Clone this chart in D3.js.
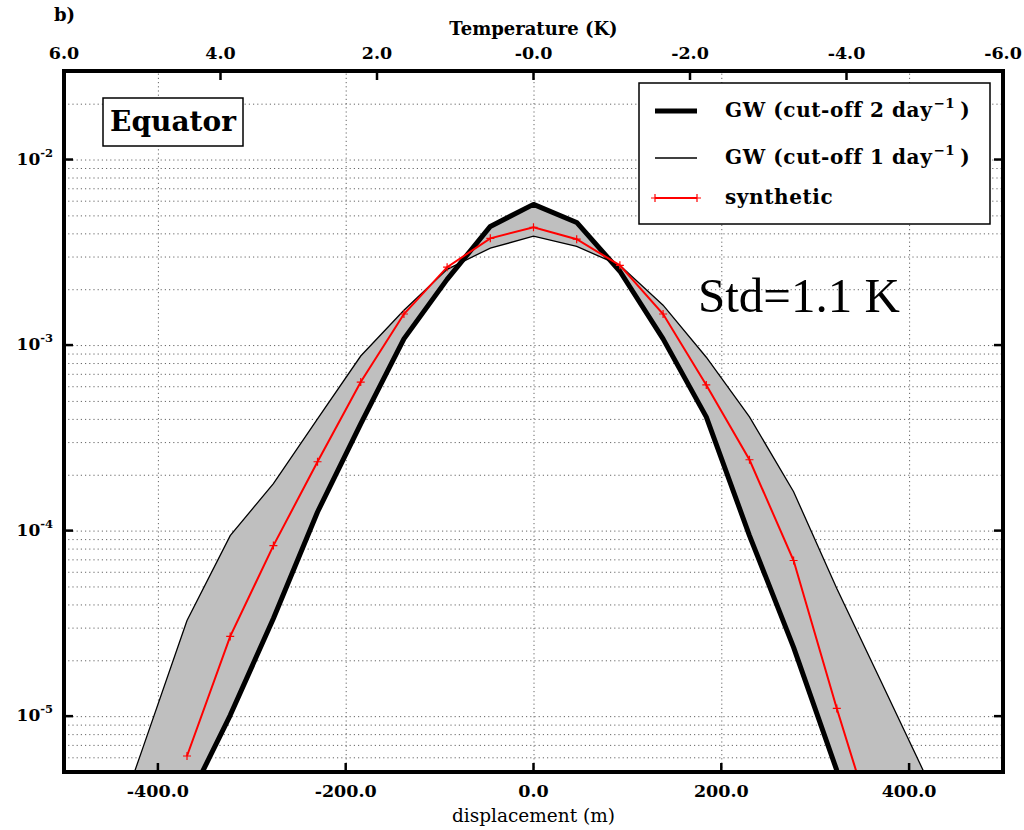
<!DOCTYPE html>
<html><head><meta charset="utf-8">
<script src="https://cdn.jsdelivr.net/npm/d3@7"></script>
<style>body{margin:0;background:#fff}svg{display:block}</style>
</head><body>
<svg id="c" width="1024" height="830"></svg>
<script>
// ---- data ----
const displacement = [-461,-415,-369,-323,-277,-230,-184,-138,-92,-46,0,46,92,138,184,230,277,323,369,415,461];
const gwCut2 = [5e-7,1.2e-6,3.4e-6,1.01e-5,3.36e-5,1.26e-4,3.76e-4,1.08e-3,2.26e-3,4.36e-3,5.73e-3,4.58e-3,2.50e-3,1.08e-3,4.1e-4,9.4e-5,2.35e-5,5.1e-6,1.4e-6,5e-7,2e-7];
const gwCut1 = [1.5e-6,6.98e-6,3.28e-5,9.4e-5,1.79e-4,4.0e-4,8.73e-4,1.54e-3,2.56e-3,3.33e-3,3.86e-3,3.40e-3,2.69e-3,1.64e-3,8.6e-4,4.1e-4,1.62e-4,4.88e-5,1.58e-5,5.1e-6,1.66e-6];
const synthetic = [null,null,6.1e-6,2.69e-5,8.3e-5,2.35e-4,6.32e-4,1.47e-3,2.63e-3,3.76e-3,4.31e-3,3.72e-3,2.69e-3,1.47e-3,6.1e-4,2.41e-4,6.9e-5,1.10e-5,1.95e-6,null,null];

const dispTicks = [-400,-200,0,200,400];
const tempTicks = [6,4,2,0,-2,-4,-6];
const tempLabels = ["6.0","4.0","2.0","-0.0","-2.0","-4.0","-6.0"];
const decadeTicks = [1e-2,1e-3,1e-4,1e-5];
const decadeExp = ["-2","-3","-4","-5"];
const legendLabels = ["GW (cut-off 2 day", "GW (cut-off 1 day", "synthetic"];

// ---- layout ----
const svg = d3.select('#c');
const m = {l:64, r:1003, t:71, b:772};
const x = d3.scaleLinear().domain([-500,500]).range([m.l,m.r]);
const xT = d3.scaleLinear().domain([6,-6]).range([m.l,m.r]);
const y = d3.scaleLog().domain([5e-6,0.03]).range([m.b,m.t]);
const BF = "'DejaVu Serif', serif";

svg.append('defs').append('clipPath').attr('id','clip')
  .append('rect').attr('x',m.l).attr('y',m.t).attr('width',m.r-m.l).attr('height',m.b-m.t);

// grid
const grid = svg.append('g');
grid.append('g').attr('transform',`translate(${m.l},0)`)
  .call(d3.axisLeft(y).tickValues(y.ticks()).tickSize(-(m.r-m.l)).tickFormat(''))
  .call(g=>g.select('.domain').remove())
  .call(g=>g.selectAll('line').attr('stroke','#666').attr('stroke-width',1).attr('stroke-dasharray','1.2,3'));
grid.append('g').attr('transform',`translate(0,${m.b})`)
  .call(d3.axisBottom(x).tickValues(dispTicks).tickSize(-(m.b-m.t)).tickFormat(''))
  .call(g=>g.select('.domain').remove())
  .call(g=>g.selectAll('line').attr('stroke','#666').attr('stroke-width',1).attr('stroke-dasharray','1.2,3'));

const rows = displacement.map((d,i)=>({d, a:gwCut2[i], b:gwCut1[i], s:synthetic[i]}));
const plot = svg.append('g').attr('clip-path','url(#clip)');

plot.append('path').datum(rows)
  .attr('d', d3.area().x(r=>x(r.d)).y0(r=>y(r.a)).y1(r=>y(r.b)))
  .attr('fill','#bfbfbf').attr('stroke','none');

plot.append('path').datum(rows)
  .attr('d', d3.line().x(r=>x(r.d)).y(r=>y(r.b)))
  .attr('fill','none').attr('stroke','#000').attr('stroke-width',1.3);
plot.append('path').datum(rows)
  .attr('d', d3.line().x(r=>x(r.d)).y(r=>y(r.a)))
  .attr('fill','none').attr('stroke','#000').attr('stroke-width',5).attr('stroke-linejoin','round');

const synth = rows.filter(r=>r.s!==null);
plot.append('path').datum(synth)
  .attr('d', d3.line().x(r=>x(r.d)).y(r=>y(r.s)))
  .attr('fill','none').attr('stroke','#ff0000').attr('stroke-width',2);
plot.selectAll('.mk').data(synth).enter().append('path')
  .attr('d', r=>`M${x(r.d)-4},${y(r.s)}h8M${x(r.d)},${y(r.s)-4}v8`)
  .attr('stroke','#ff0000').attr('stroke-width',1.2);

// spines
svg.append('rect').attr('x',m.l).attr('y',m.t).attr('width',m.r-m.l).attr('height',m.b-m.t)
  .attr('fill','none').attr('stroke','#000').attr('stroke-width',4);

// ticks
const tk = svg.append('g').attr('stroke','#000').attr('stroke-width',2.5);
dispTicks.forEach(v=>{ tk.append('line').attr('x1',x(v)).attr('x2',x(v)).attr('y1',m.b).attr('y2',m.b-9); });
tempTicks.forEach(v=>{ tk.append('line').attr('x1',xT(v)).attr('x2',xT(v)).attr('y1',m.t).attr('y2',m.t+9); });
decadeTicks.forEach(v=>{
  tk.append('line').attr('x1',m.l).attr('x2',m.l+9).attr('y1',y(v)).attr('y2',y(v));
  tk.append('line').attr('x1',m.r).attr('x2',m.r-9).attr('y1',y(v)).attr('y2',y(v));
});

// Equator box
svg.append('rect').attr('x',103).attr('y',98).attr('width',140).attr('height',48)
  .attr('fill','#fff').attr('stroke','#000').attr('stroke-width',1.5);

// legend box
const lg = svg.append('g');
lg.append('rect').attr('x',639).attr('y',83).attr('width',351).attr('height',141)
  .attr('fill','#fff').attr('stroke','#000').attr('stroke-width',1.5);

// tick labels and titles
const lab = svg.append('g').attr('font-family',BF).attr('font-weight','bold').attr('fill','#000');
dispTicks.forEach(v=>{
  lab.append('text').attr('x',x(v)).attr('y',797).attr('text-anchor','middle').attr('font-size',17.5).text(v.toFixed(1));
});
tempTicks.forEach((v,i)=>{
  lab.append('text').attr('x',xT(v)).attr('y',59).attr('text-anchor','middle').attr('font-size',17.5).text(tempLabels[i]);
});
decadeTicks.forEach((v,i)=>{
  const t = lab.append('text').attr('x',53).attr('y',y(v)+5).attr('text-anchor','end').attr('font-size',17);
  t.append('tspan').text('10');
  t.append('tspan').attr('font-size',11.5).attr('dy',-8).text(decadeExp[i]);
});

lab.append('text').attr('x',x(0)).attr('y',822).attr('text-anchor','middle').attr('font-size',18.5).attr('font-weight','normal').text('displacement (m)');
lab.append('text').attr('x',x(0)).attr('y',35).attr('text-anchor','middle').attr('font-size',18).text('Temperature (K)');
lab.append('text').attr('x',54).attr('y',21).attr('font-size',18).text('b)');
lab.append('text').attr('x',173).attr('y',131).attr('text-anchor','middle').attr('font-size',28).text('Equator');

// Std text
svg.append('text').attr('x',698).attr('y',312).attr('font-family',"'Liberation Serif', 'Times New Roman', serif")
  .attr('font-size',49).attr('fill','#000').text('Std=1.1 K');

// legend entries
const ly = [111,158,198];
lg.append('line').attr('x1',655).attr('x2',697).attr('y1',ly[0]).attr('y2',ly[0]).attr('stroke','#000').attr('stroke-width',5);
lg.append('line').attr('x1',655).attr('x2',697).attr('y1',ly[1]).attr('y2',ly[1]).attr('stroke','#000').attr('stroke-width',1.3);
lg.append('line').attr('x1',655).attr('x2',697).attr('y1',ly[2]).attr('y2',ly[2]).attr('stroke','#ff0000').attr('stroke-width',2);
[655,697].forEach(px=>{
  lg.append('path').attr('d',`M${px-4},${ly[2]}h8M${px},${ly[2]-4}v8`).attr('stroke','#ff0000').attr('stroke-width',1.2);
});
legendLabels.forEach((t,i)=>{
  const tx = lg.append('text').attr('x',725).attr('y',ly[i]+6).attr('font-family',BF).attr('font-weight','bold')
    .attr('font-size',20).attr('letter-spacing',0.6);
  tx.append('tspan').text(t);
  if(i<2){
    tx.append('tspan').attr('font-size',13.5).attr('dy',-9).attr('dx',1).text('\u22121');
    tx.append('tspan').attr('dy',9).attr('dx',5).text(')');
  }
});
</script>
</body></html>
